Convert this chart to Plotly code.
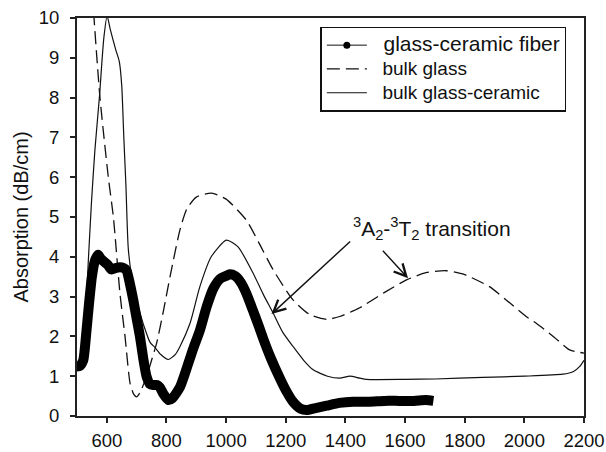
import plotly.graph_objects as go

# ---- data ----
fiber_x = [495, 510, 521, 530, 540, 550, 560, 566, 571, 580, 590, 603, 616, 630, 644, 656, 666, 678,
           689, 700, 711, 722, 733, 745, 756, 768, 778, 790, 806, 820, 845, 870, 890, 912, 935, 957,
           980, 1000, 1012, 1030, 1050, 1068, 1090, 1110, 1124, 1150, 1180, 1200, 1225, 1250, 1270,
           1300, 1337, 1380, 1426, 1480, 1530, 1580, 1630, 1670, 1695]
fiber_y = [1.24, 1.26, 1.4, 2.0, 2.8, 3.5, 3.9, 4.0, 4.05, 3.95, 3.88, 3.8, 3.68, 3.72, 3.74, 3.72,
           3.66, 3.3, 2.9, 2.45, 2.0, 1.45, 1.0, 0.8, 0.78, 0.78, 0.72, 0.55, 0.40, 0.45, 0.72, 1.25,
           1.7, 2.15, 2.75, 3.2, 3.45, 3.52, 3.56, 3.52, 3.35, 3.08, 2.65, 2.25, 1.95, 1.45, 0.95, 0.65,
           0.35, 0.18, 0.15, 0.2, 0.26, 0.33, 0.36, 0.36, 0.38, 0.38, 0.38, 0.4, 0.38]

glass_x = [530, 557, 577, 605, 622, 644, 661, 678, 690, 700, 712, 733, 750, 767, 790, 812, 845, 868,
           900, 951, 1000, 1068, 1110, 1158, 1225, 1280, 1337, 1381, 1448, 1530, 1605, 1670, 1738,
           1800, 1883, 1940, 2006, 2040, 2100, 2152, 2200]
glass_y = [13.0, 10.0, 8.0, 6.0, 5.0, 3.08, 2.0, 0.82, 0.55, 0.48, 0.6, 0.99, 1.4, 1.83, 2.65, 3.5,
           4.67, 5.2, 5.5, 5.6, 5.45, 4.92, 4.35, 3.67, 2.91, 2.55, 2.43, 2.5, 2.72, 3.1, 3.42, 3.6,
           3.65, 3.55, 3.25, 2.91, 2.5, 2.33, 1.98, 1.66, 1.58]

gc_x = [528, 538, 548, 560, 575, 590, 601, 612, 630, 642, 650, 657, 664, 672, 689, 705,
        725, 745, 762, 780, 806, 830, 845, 879, 912, 950, 1001, 1040, 1091, 1125, 1158, 1190, 1225,
        1260, 1292, 1340, 1381, 1415, 1448, 1470, 1600, 1700, 1861, 2000, 2129, 2165, 2185, 2200]
gc_y = [2.4, 3.9, 5.3, 6.68, 8.0, 9.5, 10.05, 9.7, 9.2, 8.9, 8.3, 7.0, 5.8, 4.2, 3.17,
        2.75, 2.25, 1.85, 1.72, 1.55, 1.42, 1.55, 1.74, 2.33, 3.25, 4.0, 4.42, 4.25, 3.58, 3.05, 2.58,
        2.1, 1.74, 1.4, 1.16, 1.0, 0.95, 1.0, 0.95, 0.92, 0.92, 0.93, 0.97, 1.0, 1.05, 1.12, 1.24, 1.4]

x_ticks = [600, 800, 1000, 1200, 1400, 1600, 1800, 2000, 2200]
y_ticks = list(range(0, 11))

FONT = "Liberation Sans, Arial, Helvetica, sans-serif"

fig = go.Figure()

fig.add_trace(go.Scatter(x=glass_x, y=glass_y, mode="lines",
                         name="<span style='font-size:19px'>&nbsp;&nbsp;bulk glass</span>",
                         line=dict(color="#111", width=1.3, dash="13px,6px", shape="spline", smoothing=0.6),
                         legendrank=2))
fig.add_trace(go.Scatter(x=gc_x, y=gc_y, mode="lines",
                         name="<span style='font-size:19px'>&nbsp;&nbsp;bulk glass-ceramic</span>",
                         line=dict(color="#111", width=1.2, shape="spline", smoothing=0.6),
                         legendrank=3))
fig.add_trace(go.Scatter(x=fiber_x, y=fiber_y, mode="lines", showlegend=False,
                         line=dict(color="#000", width=10, shape="spline", smoothing=0.6)))
fig.add_trace(go.Scatter(x=[None], y=[None], mode="lines+markers",
                         name="<span style='font-size:21px'>&nbsp;&nbsp;glass-ceramic fiber</span>",
                         line=dict(color="#111", width=1), marker=dict(color="#000", size=7),
                         legendrank=1))

# annotation text and arrows
fig.add_annotation(x=1689, y=4.72, xref="x", yref="y", showarrow=False,
                   text="<sup>3</sup>A<sub>2</sub>-<sup>3</sup>T<sub>2</sub> transition",
                   font=dict(size=21, color="#111", family=FONT))
fig.add_annotation(x=1152, y=2.56, ax=1421, ay=4.42, xref="x", yref="y", axref="x", ayref="y",
                   text="", showarrow=True, arrowhead=5, arrowsize=1.7, arrowwidth=1.4, arrowcolor="#111")
fig.add_annotation(x=1610, y=3.46, ax=1521, ay=4.19, xref="x", yref="y", axref="x", ayref="y",
                   text="", showarrow=True, arrowhead=5, arrowsize=1.7, arrowwidth=1.4, arrowcolor="#111")

fig.update_layout(
    template="none",
    width=606, height=452,
    margin=dict(l=77, r=22, t=18, b=36, autoexpand=False),
    paper_bgcolor="white", plot_bgcolor="white",
    font=dict(family=FONT, size=18, color="#111"),
    showlegend=True,
    legend=dict(x=0.48, y=0.978, xanchor="left", yanchor="top",
                bordercolor="#111", borderwidth=1.5, bgcolor="white", itemwidth=40,
                font=dict(size=16, family=FONT), tracegroupgap=0),
)
fig.update_xaxes(range=[500, 2200], tickvals=x_ticks, ticks="outside", ticklen=5, tickwidth=1.5,
                 tickcolor="#222", showline=True, linecolor="#222", linewidth=2, mirror=True,
                 showgrid=False, zeroline=False, tickfont=dict(size=18.5), automargin=False,
                 ticklabelstandoff=2)
fig.update_yaxes(range=[0, 10], tickvals=y_ticks, ticks="outside", ticklen=5, tickwidth=1.5,
                 tickcolor="#222", showline=True, linecolor="#222", linewidth=2, mirror=True,
                 showgrid=False, zeroline=False, tickfont=dict(size=18.5), automargin=False,
                 ticklabelstandoff=7,
                 title=dict(text="Absorption (dB/cm)", font=dict(size=20), standoff=5))

fig.write_html("out.html", config={"displayModeBar": False},
               post_script="document.body.style.margin='0';")
